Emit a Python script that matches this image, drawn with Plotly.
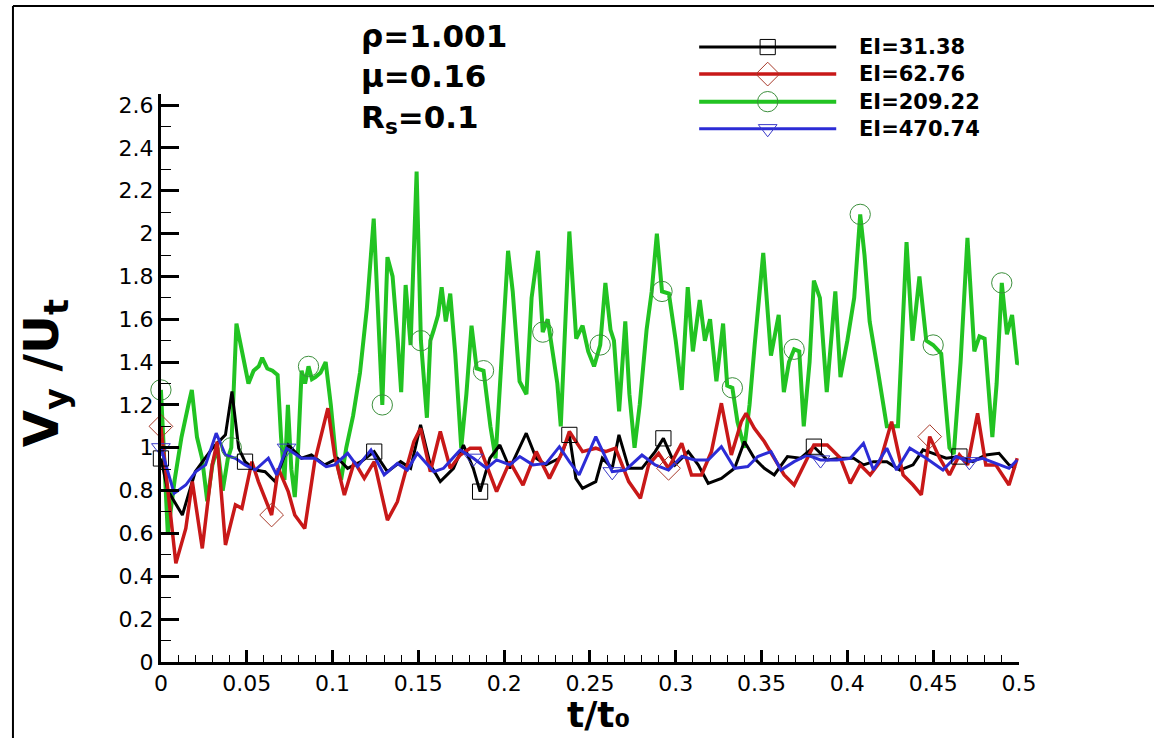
import numpy as np
import plotly.graph_objects as go

# ---------------- data ----------------
series_names = ["EI=31.38", "EI=62.76", "EI=209.22", "EI=470.74"]

t_green = [0.000,0.004,0.008,0.012,0.016,0.018,0.021,0.024,0.027,0.030,0.033,0.036,0.039,0.041,0.044,
           0.047,0.051,0.054,0.057,0.059,0.062,0.065,0.068,0.070,0.072,0.074,0.076,0.078,0.080,0.082,
           0.084,0.086,0.088,0.090,0.093,0.096,0.099,0.102,0.105,0.108,0.112,0.116,0.120,0.124,0.127,
           0.129,0.132,0.135,0.138,0.140,0.1426,0.1455,0.149,0.1515,0.155,0.157,0.159,0.1615,0.1636,0.166,
           0.1686,0.1715,0.175,0.178,0.181,0.184,0.188,0.192,0.195,0.199,0.2023,0.205,0.209,0.213,0.216,
           0.2197,0.2225,0.2254,0.228,0.231,0.233,0.236,0.238,0.242,0.2457,0.249,0.2524,0.256,0.259,0.262,
           0.264,0.267,0.2706,0.273,0.276,0.279,0.283,0.286,0.289,0.292,0.296,0.300,0.3035,0.307,0.310,
           0.314,0.317,0.320,0.3237,0.3276,0.330,0.333,0.336,0.340,0.343,0.346,0.351,0.3555,0.360,0.363,
           0.366,0.369,0.372,0.3746,0.378,0.3805,0.384,0.388,0.393,0.396,0.400,0.404,0.4075,0.410,0.413,
           0.418,0.423,0.4295,0.4345,0.438,0.442,0.446,0.450,0.4547,0.4595,0.462,0.466,0.470,0.474,0.477,
           0.480,0.4845,0.487,0.490,0.493,0.496,0.499,0.500]
v_green = [1.27,0.60,0.85,1.05,1.20,1.27,1.05,0.95,0.75,0.92,1.00,0.80,0.95,1.00,1.58,
           1.45,1.30,1.36,1.38,1.42,1.37,1.36,1.34,1.05,0.85,1.20,0.90,0.77,1.00,1.36,
           1.30,1.38,1.32,1.33,1.35,1.40,1.20,0.95,0.85,1.00,1.15,1.35,1.65,2.07,1.60,
           1.20,1.89,1.80,1.50,1.26,1.76,1.48,2.29,1.50,1.14,1.50,1.55,1.62,1.75,1.59,
           1.72,1.44,1.00,1.25,1.57,1.37,1.36,1.10,0.95,1.50,1.92,1.73,1.31,1.25,1.70,
           1.92,1.54,1.60,1.45,1.30,1.10,1.70,2.01,1.51,1.57,1.45,1.38,1.48,1.77,1.55,
           1.50,1.17,1.59,1.25,1.00,1.20,1.55,1.73,2.00,1.73,1.72,1.50,1.27,1.75,1.45,
           1.69,1.50,1.60,1.31,1.58,1.29,1.28,1.12,1.00,1.20,1.48,1.91,1.43,1.62,1.26,
           1.40,1.46,1.45,1.10,1.40,1.78,1.70,1.26,1.73,1.33,1.50,1.70,2.09,1.90,1.59,
           1.35,1.10,1.10,1.96,1.50,1.80,1.50,1.48,1.44,1.00,0.97,1.40,1.98,1.45,1.52,
           1.51,1.05,1.30,1.77,1.53,1.62,1.39,1.40]

t_black = [0.000,0.004,0.0125,0.020,0.030,0.0376,0.0414,0.0453,0.049,0.055,0.0607,0.0665,0.0742,0.0819,
           0.0877,0.0954,0.103,0.1088,0.1166,0.1243,0.132,0.1397,0.1455,0.1513,0.157,0.1628,0.1705,0.1763,
           0.182,0.186,0.1917,0.1975,0.2033,0.2129,0.2187,0.2245,0.2322,0.238,0.2418,0.2457,0.2534,0.2572,
           0.263,0.2669,0.2726,0.2803,0.288,0.2928,0.2996,0.3073,0.3131,0.3189,0.3266,0.3343,0.340,0.3458,
           0.3516,0.3574,0.3651,0.3728,0.3805,0.3883,0.396,0.4037,0.4094,0.4152,0.423,0.4306,0.4383,0.4441,
           0.4499,0.4576,0.4653,0.473,0.4807,0.4884,0.4942,0.4981]
v_black = [0.95,0.80,0.686,0.888,0.998,1.060,1.263,0.998,0.935,0.896,0.888,0.842,1.013,0.951,
           0.966,0.920,0.951,0.904,0.935,0.982,0.888,0.935,0.904,1.107,0.920,0.842,0.904,1.013,
           0.904,0.795,0.951,1.013,0.904,1.068,0.951,0.920,0.951,1.060,0.857,0.811,0.842,0.951,
           0.904,1.060,0.904,0.904,0.982,1.044,0.920,0.982,0.920,0.834,0.857,0.904,1.029,0.951,
           0.904,0.873,0.959,0.951,1.005,0.943,0.951,0.951,0.920,0.935,0.935,0.896,0.920,0.990,
           0.974,0.951,0.959,0.935,0.966,0.974,0.920,0.904]

t_red = [0.000,0.0087,0.0145,0.0183,0.0241,0.0299,0.0328,0.0376,0.0434,0.0472,0.053,0.0568,0.0645,0.0684,
         0.0742,0.078,0.0838,0.0896,0.0973,0.1012,0.1069,0.1127,0.1185,0.1243,0.132,0.1378,0.1436,0.1474,
         0.1513,0.157,0.1628,0.1686,0.1744,0.1802,0.186,0.1917,0.1956,0.2033,0.211,0.2187,0.2264,0.2341,
         0.238,0.2457,0.2534,0.2591,0.2649,0.2726,0.2794,0.2842,0.29,0.2958,0.3035,0.3092,0.315,0.3208,
         0.3266,0.3324,0.3382,0.341,0.3458,0.3516,0.3574,0.3632,0.369,0.3747,0.3805,0.3883,0.396,0.4017,
         0.4075,0.4133,0.4191,0.4258,0.4325,0.4383,0.4431,0.448,0.4538,0.4595,0.4653,0.4701,0.4759,0.4807,
         0.4865,0.4942,0.499]
v_red = [1.10,0.460,0.623,0.842,0.530,0.920,1.029,0.546,0.733,0.717,0.935,0.842,0.686,0.904,
         0.795,0.686,0.623,0.935,1.185,0.966,0.779,0.935,0.857,0.935,0.662,0.748,0.920,1.029,
         1.091,0.888,1.076,0.904,0.966,0.998,0.998,0.873,0.795,0.935,0.826,0.982,0.857,0.982,
         1.076,0.982,0.998,0.982,0.998,0.842,0.764,0.920,0.974,0.904,1.021,0.873,0.873,0.982,
         1.208,0.966,1.122,1.161,1.091,1.029,0.951,0.873,0.826,0.920,1.013,1.013,0.951,0.834,
         0.920,0.873,0.935,1.122,0.873,0.826,0.780,1.052,0.951,0.873,0.966,0.920,1.161,0.920,
         0.920,0.826,0.951]

t_blue = [0.000,0.0077,0.0145,0.0202,0.026,0.0322,0.0376,0.0434,0.0491,0.0549,0.0626,0.0674,0.0732,0.0819,
          0.0896,0.0963,0.1012,0.1088,0.1146,0.1224,0.1301,0.1378,0.1436,0.1494,0.159,0.1647,0.1744,0.1821,
          0.1898,0.1956,0.2033,0.2091,0.2168,0.2245,0.2322,0.238,0.2437,0.2534,0.263,0.2707,0.2803,0.288,
          0.2958,0.3035,0.3112,0.3189,0.3266,0.3343,0.342,0.3478,0.3555,0.3613,0.369,0.3767,0.3844,0.394,
          0.4017,0.4094,0.4152,0.423,0.4287,0.4364,0.446,0.4557,0.4634,0.4711,0.4788,0.4865,0.4942,0.499]
v_blue = [1.00,0.787,0.826,0.888,0.920,1.068,0.966,0.951,0.920,0.896,0.951,0.873,0.998,0.951,
          0.951,0.912,0.920,0.974,0.912,0.990,0.873,0.927,0.896,0.974,0.888,0.904,0.990,0.951,
          0.904,0.943,0.920,0.959,0.920,0.927,1.005,0.935,0.873,1.052,0.888,0.896,0.966,0.920,
          0.896,0.959,0.943,0.943,1.005,0.904,0.912,0.959,0.982,0.896,0.935,0.966,0.943,0.943,
          0.951,1.021,0.896,0.998,0.896,0.998,0.951,0.896,0.959,0.935,0.951,0.927,0.904,0.943]

mark_t_black = [0.0, 0.049, 0.1243, 0.186, 0.238, 0.2928, 0.3805, 0.4653]
mark_t_red = [0.0, 0.0645, 0.2958, 0.448]
mark_t_green = [0.0, 0.041, 0.086, 0.129, 0.1515, 0.188, 0.2225, 0.256, 0.292, 0.333, 0.369, 0.4075, 0.450, 0.490]
mark_t_blue = [0.0, 0.0732, 0.1821, 0.263, 0.3844, 0.4711]

param_lines = ["\u03c1=1.001", "\u03bc=0.16", "R<sub>s</sub>=0.1"]

# ---------------- geometry ----------------
REF_W, REF_H = 1155, 738          # layout positions below are given in these pixels
FIG_W, FIG_H = 1172, 753          # figure size (the capture is scaled back to 1155x738)
FONT = "DejaVu Sans"
K = FIG_W / REF_W                 # size factor for markers

def fx(p):
    return p / REF_W

def fy(p):
    return 1 - p / REF_H

styles = {
    "black": dict(t=t_black, v=v_black, mt=mark_t_black, color="#000000", width=3,
                  sym="square-open", msize=15, mcolor="#000000", name=series_names[0]),
    "red": dict(t=t_red, v=v_red, mt=mark_t_red, color="#c81818", width=3.5,
                sym="diamond-open", msize=18, mcolor="#a83a2a", name=series_names[1]),
    "green": dict(t=t_green, v=v_green, mt=mark_t_green, color="#22c322", width=4,
                  sym="circle-open", msize=20, mcolor="#3c8f3c", name=series_names[2]),
    "blue": dict(t=t_blue, v=v_blue, mt=mark_t_blue, color="#2c2cd6", width=3,
                 sym="triangle-down-open", msize=16, mcolor="#3a3ac8", name=series_names[3]),
}

fig = go.Figure()
draw_order = ["green", "black", "red", "blue"]
for key in draw_order:
    s = styles[key]
    fig.add_trace(go.Scatter(x=s["t"], y=s["v"], mode="lines", name=s["name"],
                             line=dict(color=s["color"], width=s["width"]), showlegend=False))
for key in draw_order:
    s = styles[key]
    t = np.array(s["t"]); v = np.array(s["v"])
    idx = [int(np.argmin(np.abs(t - m))) for m in s["mt"]]
    fig.add_trace(go.Scatter(x=t[idx], y=v[idx], mode="markers", showlegend=False,
                             marker=dict(symbol=s["sym"], size=s["msize"] * K, color=s["mcolor"],
                                         line=dict(width=1, color=s["mcolor"])),
                             cliponaxis=False))

# Tecplot-like legend on an overlay pixel axis
leg_rows = [46, 73, 100.5, 127.5]
leg_x0, leg_x1, leg_xm, leg_tx = 697, 835, 766, 856
for key, yy in zip(["black", "red", "green", "blue"], leg_rows):
    s = styles[key]
    fig.add_trace(go.Scatter(x=[leg_x0, leg_x1], y=[yy, yy], mode="lines", xaxis="x2", yaxis="y2",
                             line=dict(color=s["color"], width=s["width"]), showlegend=False,
                             hoverinfo="skip"))
    fig.add_trace(go.Scatter(x=[leg_xm], y=[yy], mode="markers", xaxis="x2", yaxis="y2",
                             marker=dict(symbol=s["sym"], size=s["msize"] * K, color=s["mcolor"],
                                         line=dict(width=1, color=s["mcolor"])),
                             showlegend=False, hoverinfo="skip", cliponaxis=False))
    fig.add_annotation(x=leg_tx, y=yy, xref="x2", yref="y2", text="<b>%s</b>" % s["name"],
                       showarrow=False, xanchor="left", yanchor="middle",
                       font=dict(family=FONT, size=21, color="black"))

axis_common = dict(showline=True, linewidth=3, linecolor="black", showgrid=False, zeroline=False,
                   ticks="inside", tickcolor="black", tickwidth=3,
                   tickfont=dict(family=FONT, size=22, color="black"))
fig.update_layout(
    width=FIG_W, height=FIG_H, margin=dict(l=0, r=0, t=0, b=0),
    paper_bgcolor="white", plot_bgcolor="rgba(0,0,0,0)",
    xaxis=dict(domain=[fx(155), fx(1019)], range=[0, 0.5], dtick=0.05, tick0=0, ticklen=12, anchor="y",
               minor=dict(dtick=0.01, ticklen=7, tickwidth=1, ticks="inside", tickcolor="black"),
               **axis_common),
    yaxis=dict(domain=[fy(660), fy(93.3)], range=[0, 2.65], dtick=0.2, tick0=0, ticklen=18, anchor="x",
               minor=dict(dtick=0.1, ticklen=10, tickwidth=1, ticks="inside", tickcolor="black"),
               **axis_common),
    xaxis2=dict(domain=[0, 1], range=[0, REF_W], visible=False, anchor="y2", fixedrange=True),
    yaxis2=dict(domain=[0, 1], range=[REF_H, 0], visible=False, anchor="x2", fixedrange=True),
    showlegend=False,
)

# axis titles
fig.add_annotation(x=38, y=372, xref="x2", yref="y2", text="<b>V<sub>y</sub> /U<sub>t</sub></b>",
                   textangle=-90, showarrow=False, font=dict(family=FONT, size=48, color="black"))
fig.add_annotation(x=596, y=713, xref="x2", yref="y2", text="<b>t/t\u2080</b>",
                   yanchor="middle", showarrow=False, font=dict(family=FONT, size=36, color="black"))
# parameter text block
fig.add_annotation(x=354, y=77, xref="x2", yref="y2",
                   text="<b>" + "<br>".join(param_lines) + "</b>", showarrow=False,
                   xanchor="left", yanchor="middle", align="left",
                   font=dict(family=FONT, size=31, color="black"))

# outer frame (top and left edges visible in the reference)
fig.add_shape(type="line", xref="paper", yref="paper", x0=fx(6), x1=1, y0=fy(5), y1=fy(5),
              line=dict(color="black", width=2))
fig.add_shape(type="line", xref="paper", yref="paper", x0=fx(6), x1=fx(6), y0=0, y1=fy(5),
              line=dict(color="black", width=2))

fig.write_html("out.html")
